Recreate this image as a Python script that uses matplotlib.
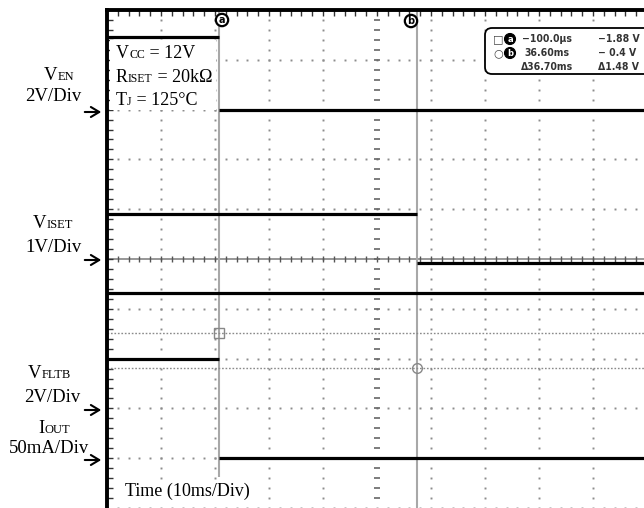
import numpy as np
import matplotlib
matplotlib.use('Agg')
import matplotlib.pyplot as plt
from matplotlib import font_manager
from matplotlib.patches import FancyBboxPatch, Rectangle, FancyArrowPatch
from matplotlib.transforms import IdentityTransform

W, H = 644, 508

# time base 10 ms/div, screen starts at -20.8 ms
t_left = -20.8
t_right = t_left + 537 / 5.4

# cursors: a / b in time (ms) and level (div)
cur_t = [-0.1, 36.6]
cur_y = [-1.49, -2.19]

# channel ground markers (div from centre) and scale per div
ven_gnd, ven_scale = 3.0, 2.0      # V/div
iset_gnd, iset_scale = 0.0, 1.0    # V/div
fltb_gnd, fltb_scale = -3.0, 2.0   # V/div
iout_gnd, iout_scale = -4.0, 50.0  # mA/div

# traces: edge times (ms) and level of each segment
ven_t = [t_left, -0.1, t_right]
ven_v = [2.92, 0.0]
iset_t = [t_left, 36.6, t_right]
iset_v = [0.90, -0.08]
fltb_t = [t_left, t_right]
fltb_v = [4.64]
iout_t = [t_left, -0.1, t_right]
iout_ma = [100.0, 0.0]

readout_time = ['\u2212100.0\u00b5s', '36.60ms', '\u039436.70ms']
readout_volt = ['\u22121.88 V', '\u2212 0.4 V', '\u03941.48 V']

names = {f.name for f in font_manager.fontManager.ttflist}
narrow = 'Liberation Sans Narrow' if 'Liberation Sans Narrow' in names else 'DejaVu Sans'

plt.rcParams['font.family'] = ['Liberation Serif', 'DejaVu Serif']
fig = plt.figure(figsize=(W / 100, H / 100), dpi=100)
ax = fig.add_axes([107 / W, 0, 537 / W, 498 / H])
ax.set_xlim(t_left, t_right)
ax.set_ylim(-5, 5)

for s in ['right', 'bottom']:
    ax.spines[s].set_visible(False)
for s in ['left', 'top']:
    ax.spines[s].set_linewidth(2.8)
    ax.spines[s].set_zorder(6)

xs = t_left + 2 * np.arange(1, 50)
ys = np.round(np.arange(-4.8, 5.0, 0.2), 2)
ax.set_xticks(xs)
ax.set_yticks(ys)
ax.xaxis.set_ticks_position('top')
ax.yaxis.set_ticks_position('left')
ax.tick_params(direction='in', length=4, width=1, color='#333333',
               labeltop=False, labelleft=False, labelbottom=False)

# graticule dots
dot = dict(ls='none', marker='s', ms=1.4, mec='none', mfc='#8c8c8c', zorder=1)
for gy in [-5, -4, -3, -2, -1, 1, 2, 3, 4]:
    ax.plot(xs, np.full(len(xs), gy), **dot)
for k in [1, 2, 3, 4, 6, 7, 8, 9]:
    ax.plot(np.full(len(ys), t_left + 10 * k), ys, **dot)

# centre axes with ticks
tc = t_left + 50
ax.axhline(0, color='#7a7a7a', lw=1.1, zorder=1)
ax.plot(xs, np.zeros(len(xs)), ls='none', marker='|', ms=5, mew=1, color='#555555', zorder=1)
ax.plot(np.full(len(ys), tc), ys, ls='none', marker='_', ms=4, mew=1.2, color='#666666', zorder=1)

# cursors (a stops above the time label, b runs full height)
ax.vlines(cur_t[0], -4.38, 5, color='#a8a8a8', lw=1.5, zorder=2)
ax.vlines(cur_t[1], -5, 5, color='#a8a8a8', lw=1.5, zorder=2)
for y in cur_y:
    ax.axhline(y, color='#8a8a8a', lw=1.0, ls=(0, (1.2, 1.3)), zorder=2)
ax.plot(cur_t[0], cur_y[0], marker='s', ms=7, mfc='none', mec='#888888', mew=1, zorder=3)
ax.plot(cur_t[1], cur_y[1], marker='o', ms=7, mfc='none', mec='#888888', mew=1, zorder=3)


def trace(t, v, gnd, scale):
    t = np.asarray(t)
    lv = gnd + np.asarray(v) / scale
    ax.hlines(lv, t[:-1], t[1:], colors='black', lw=2.3, zorder=4)


trace(ven_t, ven_v, ven_gnd, ven_scale)
trace(iset_t, iset_v, iset_gnd, iset_scale)
trace(fltb_t, fltb_v, fltb_gnd, fltb_scale)
trace(iout_t, iout_ma, iout_gnd, iout_scale)

ID = IdentityTransform()
renderer = fig.canvas.get_renderer()

# white panel behind the conditions text
fig.add_artist(Rectangle((110, H - 110), 106, 70, transform=ID, fc='white', ec='none', zorder=5))


def rich(x, y, parts, **kw):
    for s, size in parts:
        t = fig.text(x, H - y, s, fontsize=size, transform=ID, ha='left',
                     va='baseline', zorder=7, **kw)
        x += t.get_window_extent(renderer).width


big, sub = 13.5, 9
rich(44, 80, [('V', big), ('EN', sub)])
rich(25, 101, [('2V/Div', big)])
rich(33, 228, [('V', big), ('ISET', sub)])
rich(25, 252, [('1V/Div', big)])
rich(28, 378, [('V', big), ('FLTB', sub)])
rich(24, 402, [('2V/Div', big)])
rich(38, 433, [('I', big), ('OUT', sub)])
rich(9, 453, [('50mA/Div', big)])

ins = 13
rich(116, 58, [('V', ins), ('CC', 8.5), (' = 12V', ins)])
rich(116, 82, [('R', ins), ('ISET', 8.5), (' = 20k\u03a9', ins)])
rich(116, 105, [('T', ins), ('J', 8.5), (' = 125\u00b0C', ins)])

fig.text(125, H - 496, 'Time (10ms/Div)', fontsize=ins, transform=ID, ha='left',
         va='baseline', zorder=7,
         bbox=dict(boxstyle='square,pad=0.1', fc='white', ec='none'))

# ground arrows
for y in [112, 260, 410, 460]:
    fig.add_artist(FancyArrowPatch((82, H - y), (104, H - y), transform=ID,
                                   arrowstyle='->,head_length=0.5,head_width=0.3',
                                   mutation_scale=12, lw=1.5, color='black', zorder=7))

# cursor flags at top
for x, y, s in [(222, 20, 'a'), (411, 21, 'b')]:
    fig.text(x, H - y, s, transform=ID, ha='center', va='center', fontsize=7,
             fontweight='bold', family='DejaVu Sans', color='black', zorder=8,
             bbox=dict(boxstyle='circle,pad=0.12', fc='white', ec='black', lw=1.6))

# cursor readout
fig.add_artist(FancyBboxPatch((485, H - 74), 220, 46, boxstyle='round,pad=0,rounding_size=7',
                              transform=ID, fc='white', ec='black', lw=1.3, zorder=5))
for yy, sym, lab in [(39, '\u25a1', 'a'), (53, '\u25cb', 'b')]:
    fig.text(498, H - yy, sym, transform=ID, ha='center', va='center', fontsize=8,
             family='DejaVu Sans', color='#444444', zorder=7)
    fig.text(510, H - yy, lab, transform=ID, ha='center', va='center', fontsize=6,
             fontweight='bold', family='DejaVu Sans', color='white', zorder=8,
             bbox=dict(boxstyle='circle,pad=0.12', fc='black', ec='black', lw=0.8))
for i, yy in enumerate([39, 53, 67]):
    fig.text(547, H - yy, readout_time[i], transform=ID, ha='center', va='center',
             fontsize=7.5, fontweight='bold', family=narrow, fontstretch='condensed',
             color='#333333', zorder=7)
    fig.text(598, H - yy, readout_volt[i], transform=ID, ha='left', va='center',
             fontsize=7.5, fontweight='bold', family=narrow, fontstretch='condensed',
             color='#333333', zorder=7)

fig.savefig('out.png', dpi=100)
